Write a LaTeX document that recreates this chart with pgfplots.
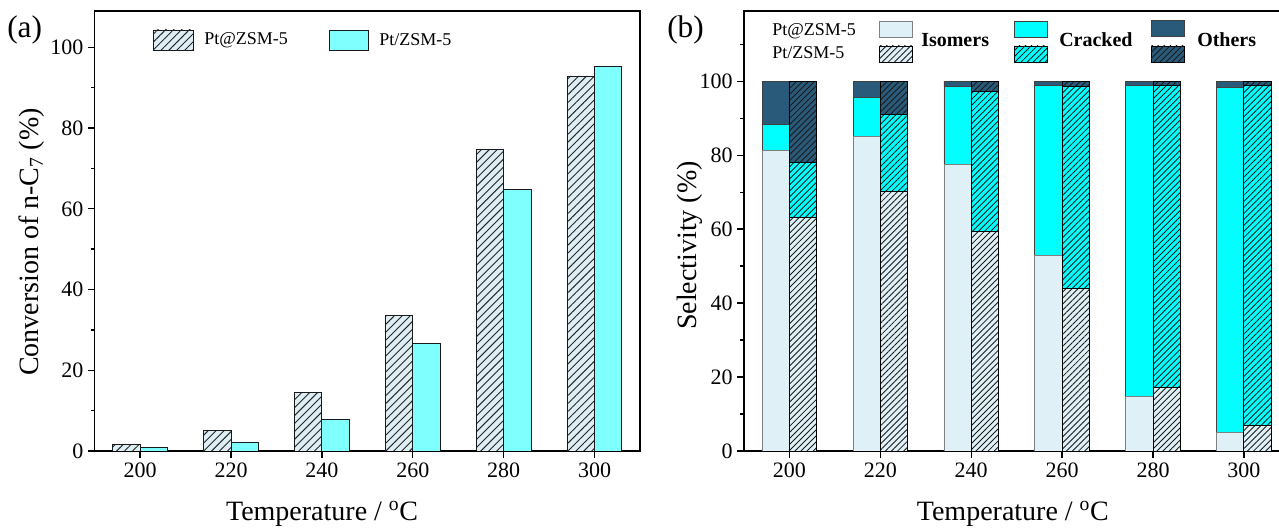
\documentclass[border=0pt]{standalone}
\usepackage{pgfplots}
\pgfplotsset{compat=1.18}
\usetikzlibrary{patterns.meta}
\usepackage{fontspec}
\setmainfont{Liberation Serif}
\definecolor{isoc}{HTML}{DFF1F7}
\definecolor{crkc}{HTML}{00FFFF}
\definecolor{othc}{HTML}{2A5A7A}
\definecolor{ptsl}{HTML}{80FFFF}
\definecolor{ptat}{HTML}{DDEEF4}
\tikzset{
  hatchA/.style={postaction={pattern={Lines[angle=45,distance=4.2pt,line width=0.7pt]}, pattern color=black!85}},
  hatchB/.style={postaction={pattern={Lines[angle=45,distance=3.2pt,line width=0.65pt]}, pattern color=black!90}},
}
\pgfplotsset{
  myaxis/.style={
    scale only axis, width=409pt, height=330pt,
    anchor=south west,
    xmin=190, xmax=310,
    xtick={200,220,240,260,280,300},
    ytick={0,20,40,60,80,100},
    minor ytick={10,30,50,70,90,110},
    xtick pos=left, ytick pos=left,
    tick align=outside,
    axis line style={line width=1.1pt},
    major tick length=5pt, minor tick length=3pt,
    every tick/.style={black, line width=1pt},
    ticklabel style={font=\fontsize{16.5}{16.5}\selectfont},
    label style={font=\fontsize{21}{21}\selectfont},
    /pgf/number format/assume math mode=true,
    /pgf/number format/1000 sep={},
    bar width=6,
  }
}
\begin{document}
\begin{tikzpicture}
\useasboundingbox (0,0) rectangle (959.25pt,396pt);
% ---------------- (a) ----------------
\begin{axis}[myaxis, at={(71pt,57.75pt)},
  ymin=0, ymax=109,
  xlabel={Temperature / \textsuperscript{o}C},
  ylabel={Conversion of n-C\textsubscript{7} (\%)},
  xlabel style={at={(axis description cs:0.417,-0.143)}, anchor=center},
  ylabel style={at={(axis description cs:-0.115,0.475)}, anchor=center, rotate=0},
]
\addplot[ybar, bar shift=-3, fill=ptat, draw=black!90, line width=0.65pt, hatchA]
  coordinates {(200,1.6) (220,5.1) (240,14.4) (260,33.5) (280,74.6) (300,92.9)};
\addplot[ybar, bar shift=3, fill=ptsl, draw=black!90, line width=0.65pt]
  coordinates {(200,0.8) (220,2.0) (240,7.8) (260,26.7) (280,64.8) (300,95.3)};
\end{axis}
% ---------------- (b) Pt@ZSM-5 stack ----------------
\begin{axis}[myaxis, at={(558pt,57.75pt)},
  ymin=0, ymax=119,
  ybar stacked,
  xlabel={Temperature / \textsuperscript{o}C},
  ylabel={Selectivity (\%)},
  xlabel style={at={(axis description cs:0.493,-0.143)}, anchor=center},
  ylabel style={at={(axis description cs:-0.099,0.467)}, anchor=center, rotate=0},
]
\addplot[bar shift=-3, fill=isoc, draw=black!50, line width=0.6pt]
  coordinates {(200,81.3) (220,85.1) (240,77.6) (260,52.9) (280,14.7) (300,5.0)};
\addplot[bar shift=-3, fill=crkc, draw=black!75, line width=0.6pt]
  coordinates {(200,6.9) (220,10.5) (240,20.9) (260,46.0) (280,84.2) (300,93.4)};
\addplot[bar shift=-3, fill=othc, draw=black!75, line width=0.6pt]
  coordinates {(200,11.8) (220,4.4) (240,1.5) (260,1.1) (280,1.1) (300,1.6)};
\end{axis}
% ---------------- (b) Pt/ZSM-5 stack ----------------
\begin{axis}[myaxis, at={(558pt,57.75pt)},
  ymin=0, ymax=119,
  ybar stacked, hide axis,
]
\addplot[bar shift=3, fill=isoc, draw=black, line width=0.65pt, hatchB]
  coordinates {(200,63.1) (220,70.3) (240,59.3) (260,43.9) (280,17.1) (300,6.8)};
\addplot[bar shift=3, fill=crkc, draw=black, line width=0.65pt, hatchB]
  coordinates {(200,14.9) (220,20.7) (240,38.0) (260,54.7) (280,81.8) (300,92.1)};
\addplot[bar shift=3, fill=othc, draw=black, line width=0.65pt, hatchB]
  coordinates {(200,22.0) (220,9.0) (240,2.7) (260,1.4) (280,1.1) (300,1.1)};
\end{axis}
% ---------------- legends and panel labels (pixel frame) ----------------
\begin{scope}[x=0.75pt, y=-0.75pt, shift={(0pt,396pt)}]
  \node[anchor=west, inner sep=0pt, font=\fontsize{23.5}{23.5}\selectfont] at (7,30) {(a)};
  \node[anchor=west, inner sep=0pt, font=\fontsize{23.5}{23.5}\selectfont] at (667,30) {(b)};
  % legend (a)
  \draw[fill=ptat, draw=black!90, line width=0.65pt, hatchA] (153,30) rectangle (193,50);
  \node[anchor=west, inner sep=0pt, font=\fontsize{13.5}{13.5}\selectfont] at (204,40) {Pt@ZSM-5};
  \draw[fill=ptsl, draw=black!90, line width=0.65pt] (329,30) rectangle (368,50);
  \node[anchor=west, inner sep=0pt, font=\fontsize{13.5}{13.5}\selectfont] at (379,40) {Pt/ZSM-5};
  % legend (b)
  \node[anchor=west, inner sep=0pt, font=\fontsize{13.5}{13.5}\selectfont] at (772,31) {Pt@ZSM-5};
  \node[anchor=west, inner sep=0pt, font=\fontsize{13.5}{13.5}\selectfont] at (772,53) {Pt/ZSM-5};
  \draw[fill=isoc, draw=black!50, line width=0.6pt] (879,21) rectangle (912,37);
  \draw[fill=isoc, draw=black, line width=0.65pt, hatchB] (879,46) rectangle (912,62);
  \node[anchor=west, inner sep=0pt, font=\fontsize{15}{15}\selectfont\bfseries] at (921,40) {Isomers};
  \draw[fill=crkc, draw=black!75, line width=0.6pt] (1014,21) rectangle (1047,37);
  \draw[fill=crkc, draw=black, line width=0.65pt, hatchB] (1014,46) rectangle (1047,62);
  \node[anchor=west, inner sep=0pt, font=\fontsize{15}{15}\selectfont\bfseries] at (1059,40) {Cracked};
  \draw[fill=othc, draw=black!75, line width=0.6pt] (1151,20) rectangle (1184,36);
  \draw[fill=othc, draw=black, line width=0.65pt, hatchB] (1151,46) rectangle (1184,62);
  \node[anchor=west, inner sep=0pt, font=\fontsize{15}{15}\selectfont\bfseries] at (1197,40) {Others};
\end{scope}
\end{tikzpicture}
\end{document}
